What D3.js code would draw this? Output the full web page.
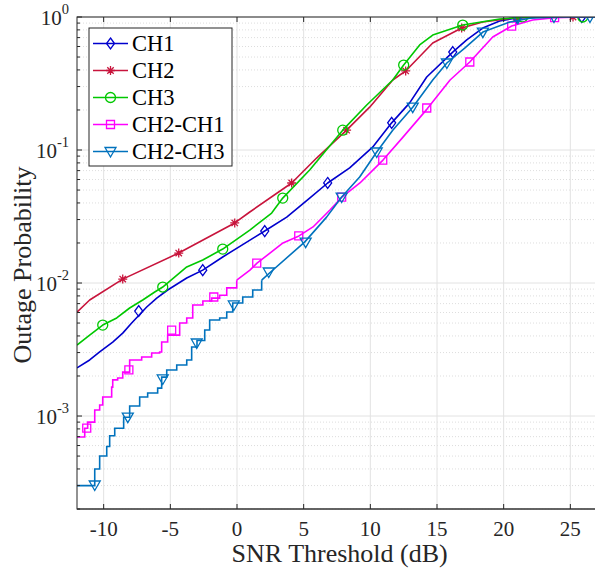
<!DOCTYPE html>
<html>
<head>
<meta charset="utf-8">
<script src="https://cdn.jsdelivr.net/npm/d3@7"></script>
<style>
  body { margin: 0; background: #fff; }
  svg { font-family: 'Liberation Serif', 'Times New Roman', serif; }
</style>
</head>
<body>
<svg width="595" height="572"></svg>
<script>
// tick labels
const xTicks = [-10, -5, 0, 5, 10, 15, 20, 25]
const yDecades = [0, -1, -2, -3]

// CH1 outage curve [SNR dB, probability]
const ch1 = [[-12, 2.3e-3], [-11.05, 2.64e-3], [-10.3, 3.03e-3], [-9.32, 3.6e-3], [-8.57, 4.2e-3],
  [-7.9, 5.0e-3], [-6.77, 6.6e-3], [-6.02, 7.7e-3], [-5.2, 8.86e-3], [-3.77, 0.0109],
  [-2.57, 0.0125], [-1.07, 0.0157], [0.73, 0.0203], [2.08, 0.0246], [3.73, 0.0313],
  [5.45, 0.0435], [6.8, 0.0565], [8.45, 0.0733], [10.17, 0.105], [11.6, 0.16],
  [12.95, 0.226], [14.23, 0.354], [16.18, 0.545], [17.23, 0.672], [18.43, 0.826],
  [19.7, 0.933], [20.98, 0.985], [23, 1], [27, 1]]
const ch1Marks = [[-7.37, 6.16e-3], [-2.57, 0.0125], [2.08, 0.0246], [6.8, 0.0565],
  [11.6, 0.16], [16.18, 0.545], [20.98, 0.99], [25.86, 1]]

// CH2
const ch2 = [[-12, 6.05e-3], [-11.05, 7.45e-3], [-8.57, 0.0107], [-4.37, 0.0168],
  [-0.17, 0.0283], [0.96, 0.0342], [4.1, 0.0565], [5.97, 0.087], [8.22, 0.141],
  [9.95, 0.21], [11.68, 0.336], [12.65, 0.393], [14.68, 0.638], [16.85, 0.826],
  [18.43, 0.917], [20.98, 0.99], [23, 1], [27, 1]]
const ch2Marks = [[-8.57, 0.0107], [-4.37, 0.0168], [-0.17, 0.0283], [4.1, 0.0565],
  [8.22, 0.141], [12.65, 0.393], [16.85, 0.826], [20.98, 0.99], [25.2, 1]]

// CH3
const ch3 = [[-12, 3.42e-3], [-11.05, 4.06e-3], [-10.07, 4.83e-3], [-9.02, 5.46e-3],
  [-8.05, 6.49e-3], [-7.07, 7.45e-3], [-6.17, 8.56e-3], [-5.57, 9.33e-3], [-3.77, 0.0132],
  [-2.57, 0.0149], [-1.07, 0.018], [0.96, 0.025], [2.6, 0.0336], [3.43, 0.0435],
  [5.45, 0.0708], [7.93, 0.141], [9.73, 0.218], [11.68, 0.336], [12.5, 0.435],
  [13.7, 0.616], [14.68, 0.732], [16.93, 0.87], [19.7, 0.966], [21.42, 0.995], [27, 1]]
const ch3Marks = [[-10.07, 4.83e-3], [-5.57, 9.33e-3], [-1.07, 0.018], [3.43, 0.0435],
  [7.93, 0.141], [12.5, 0.435], [16.93, 0.87], [21.42, 1], [25.93, 1]]

// CH2-CH1: stepped low part, smooth upper part
const ch21Low = [[-12, 6.95e-4], [-11.42, 8.1e-4], [-11.2, 9.0e-4], [-10.67, 1.11e-3],
  [-10.3, 1.21e-3], [-10.07, 1.39e-3], [-9.4, 1.65e-3], [-9.32, 1.87e-3], [-8.95, 1.93e-3],
  [-8.57, 2.14e-3], [-8.05, 2.64e-3], [-7.15, 2.78e-3], [-6.4, 2.98e-3], [-5.8, 3.03e-3],
  [-5.65, 3.6e-3], [-5.2, 4.06e-3], [-4.3, 5.0e-3], [-3.77, 5.46e-3], [-3.32, 6.84e-3],
  [-2.56, 7.33e-3], [-1.9, 7.7e-3], [-1.3, 8.1e-3], [-0.77, 9.2e-3], [-0.02, 0.0105]]
const ch21High = [[-0.02, 0.0105], [0.97, 0.0125], [1.5, 0.0141], [3.45, 0.02], [4.65, 0.0226],
  [5.7, 0.0264], [6.97, 0.0354], [7.87, 0.0443], [9.22, 0.0565], [10.95, 0.084],
  [12.45, 0.125], [14.25, 0.203], [15.98, 0.336], [17.46, 0.459], [19.18, 0.707],
  [20.6, 0.855], [22.18, 0.95], [23.83, 0.99], [26, 1], [27, 1]]
const ch21Marks = [[-11.27, 8.1e-4], [-8.11, 2.22e-3], [-4.9, 4.43e-3], [-1.74, 7.85e-3],
  [1.48, 0.0141], [4.63, 0.0226], [7.85, 0.0443], [10.93, 0.084], [14.23, 0.207],
  [17.46, 0.459], [20.6, 0.855], [23.82, 0.99]]

// CH2-CH3
const ch23Low = [[-12, 3.0e-4], [-10.67, 4.0e-4], [-10.3, 5.0e-4], [-9.77, 5.9e-4],
  [-9.55, 7.1e-4], [-9.17, 8.1e-4], [-8.5, 9.8e-4], [-8.05, 1.19e-3], [-7.3, 1.39e-3],
  [-6.7, 1.49e-3], [-5.95, 1.62e-3], [-5.65, 1.96e-3], [-5.27, 2.22e-3], [-4.52, 2.42e-3],
  [-3.77, 2.64e-3], [-3.4, 3.3e-3], [-3.0, 3.7e-3], [-2.42, 4.43e-3], [-2.05, 5.27e-3],
  [-1.3, 5.46e-3], [-0.77, 6.05e-3], [-0.32, 7.07e-3], [0.43, 7.85e-3], [1.18, 8.86e-3],
  [1.85, 0.0105]]
const ch23High = [[1.85, 0.0105], [2.44, 0.0119], [5.07, 0.0203], [6.72, 0.0313],
  [7.85, 0.0443], [9.2, 0.0626], [10.48, 0.0966], [11.68, 0.141], [13.18, 0.21],
  [14.68, 0.336], [15.74, 0.451], [17.1, 0.585], [18.44, 0.77], [20.47, 0.917],
  [21.97, 0.98], [24, 1], [27, 1]]
const ch23Marks = [[-10.67, 3.03e-4], [-8.19, 9.8e-4], [-5.57, 1.9e-3], [-3.02, 3.54e-3],
  [-0.24, 6.84e-3], [2.38, 0.0121], [5.15, 0.0203], [7.85, 0.0443], [10.48, 0.0966],
  [13.18, 0.21], [15.74, 0.451], [18.44, 0.77], [21.07, 0.98], [23.77, 1], [26.47, 1]]

const series = [
  { name: 'CH1', color: '#0000cd', marker: 'diamond', low: [], high: ch1, marks: ch1Marks },
  { name: 'CH2', color: '#c8143c', marker: 'star', low: [], high: ch2, marks: ch2Marks },
  { name: 'CH3', color: '#00c800', marker: 'circle', low: [], high: ch3, marks: ch3Marks },
  { name: 'CH2-CH1', color: '#ff00ff', marker: 'square', low: ch21Low, high: ch21High, marks: ch21Marks },
  { name: 'CH2-CH3', color: '#0072bd', marker: 'tri', low: ch23Low, high: ch23High, marks: ch23Marks }
]

const svg = d3.select('svg')
const margin = { top: 17, right: -2, bottom: 63, left: 77 }
const width = +svg.attr('width') - margin.left - margin.right
const height = +svg.attr('height') - margin.top - margin.bottom

const x = d3.scaleLinear().domain([-12, 27]).range([0, width])
const y = d3.scaleLog().domain([2e-4, 1]).range([height, 0])

const g = svg.append('g')
  .attr('transform', 'translate(' + margin.left + ',' + margin.top + ')')

// minor log values
const minorVals = []
for (let e = -4; e < 0; e++) {
  for (let k = 2; k <= 9; k++) {
    const v = k * Math.pow(10, e)
    if (v >= 2e-4 && v < 1) minorVals.push(v)
  }
}

// grid
g.append('g').selectAll('line')
  .data(minorVals).enter().append('line')
  .attr('x1', 0).attr('x2', width)
  .attr('y1', (d) => y(d)).attr('y2', (d) => y(d))
  .attr('stroke', '#d4d4d4').attr('stroke-width', 0.8).attr('stroke-dasharray', '1,2')

g.append('g').selectAll('line')
  .data(yDecades).enter().append('line')
  .attr('x1', 0).attr('x2', width)
  .attr('y1', (d) => y(Math.pow(10, d))).attr('y2', (d) => y(Math.pow(10, d)))
  .attr('stroke', '#e2e2e2').attr('stroke-width', 1)

g.append('g').selectAll('line')
  .data(xTicks).enter().append('line')
  .attr('x1', (d) => x(d)).attr('x2', (d) => x(d))
  .attr('y1', 0).attr('y2', height)
  .attr('stroke', '#e2e2e2').attr('stroke-width', 1)

// curves
g.append('clipPath').attr('id', 'clip')
  .append('rect').attr('width', width).attr('height', height)

const lineStep = d3.line().x((d) => x(d[0])).y((d) => y(d[1])).curve(d3.curveStepAfter)
const lineLin = d3.line().x((d) => x(d[0])).y((d) => y(d[1]))

const markerPath = (type) => {
  if (type === 'diamond') return 'M0,-5.5L4,0L0,5.5L-4,0Z'
  if (type === 'square') return 'M-4,-4L4,-4L4,4L-4,4Z'
  if (type === 'tri') return 'M-5.5,-4L5.5,-4L0,5.5Z'
  if (type === 'star') return 'M0,-4.5V4.5M-4.5,0H4.5M-3.2,-3.2L3.2,3.2M-3.2,3.2L3.2,-3.2'
  return null
}

const drawMarker = (sel, type, color) => {
  if (type === 'circle') {
    sel.append('circle').attr('r', 5)
      .attr('fill', 'none').attr('stroke', color).attr('stroke-width', 1.3)
  } else {
    sel.append('path').attr('d', markerPath(type))
      .attr('fill', 'none').attr('stroke', color).attr('stroke-width', 1.3)
  }
}

const plot = g.append('g').attr('clip-path', 'url(#clip)')

series.forEach((s) => {
  if (s.low.length) {
    plot.append('path').attr('d', lineStep(s.low))
      .attr('fill', 'none').attr('stroke', s.color).attr('stroke-width', 1.6)
  }
  plot.append('path').attr('d', lineLin(s.high))
    .attr('fill', 'none').attr('stroke', s.color).attr('stroke-width', 1.6)
    .attr('stroke-linejoin', 'round')
  s.marks.forEach((m) => {
    const mk = plot.append('g').attr('transform', 'translate(' + x(m[0]) + ',' + y(m[1]) + ')')
    drawMarker(mk, s.marker, s.color)
  })
})

// axes box and ticks
const axisColor = '#262626'
g.append('rect').attr('width', width).attr('height', height)
  .attr('fill', 'none').attr('stroke', axisColor).attr('stroke-width', 1)
g.append('line').attr('x1', 0).attr('x2', width).attr('y1', height).attr('y2', height)
  .attr('stroke', '#555').attr('stroke-width', 1.6)

xTicks.forEach((t) => {
  g.append('line').attr('x1', x(t)).attr('x2', x(t)).attr('y1', height).attr('y2', height - 5)
    .attr('stroke', axisColor)
  g.append('line').attr('x1', x(t)).attr('x2', x(t)).attr('y1', 0).attr('y2', 5)
    .attr('stroke', axisColor)
  g.append('text').attr('x', x(t)).attr('y', height + 27)
    .attr('text-anchor', 'middle').attr('font-size', 21).attr('fill', axisColor)
    .text(t)
})

yDecades.forEach((d) => {
  const yy = y(Math.pow(10, d))
  g.append('line').attr('x1', 0).attr('x2', 5).attr('y1', yy).attr('y2', yy).attr('stroke', axisColor)
  const t = g.append('text').attr('x', -8).attr('y', yy + 8)
    .attr('text-anchor', 'end').attr('font-size', 21).attr('fill', axisColor)
  t.append('tspan').text('10')
  t.append('tspan').attr('dy', -11).attr('font-size', 14.5).text(d)
})
minorVals.forEach((v) => {
  g.append('line').attr('x1', 0).attr('x2', 3).attr('y1', y(v)).attr('y2', y(v)).attr('stroke', axisColor)
})

// axis titles
svg.append('text').attr('x', margin.left + x(7.7)).attr('y', 562)
  .attr('text-anchor', 'middle').attr('font-size', 26).attr('fill', axisColor)
  .text('SNR Threshold (dB)')
svg.append('text').attr('transform', 'translate(31,' + (margin.top + height / 2 + 2) + ') rotate(-90)')
  .attr('text-anchor', 'middle').attr('font-size', 26).attr('fill', axisColor)
  .text('Outage Probability')

// legend
const legend = svg.append('g').attr('transform', 'translate(89,28)')
legend.append('rect').attr('width', 143).attr('height', 138)
  .attr('fill', '#fff').attr('stroke', axisColor).attr('stroke-width', 1)
series.forEach((s, i) => {
  const ly = 15.5 + i * 27
  legend.append('line').attr('x1', 4).attr('x2', 39).attr('y1', ly).attr('y2', ly)
    .attr('stroke', s.color).attr('stroke-width', 1.6)
  const mk = legend.append('g').attr('transform', 'translate(21.5,' + ly + ')')
  drawMarker(mk, s.marker, s.color)
  legend.append('text').attr('x', 43).attr('y', ly + 7.5)
    .attr('font-size', 22.5).attr('fill', '#000').text(s.name)
})
</script>
</body>
</html>
